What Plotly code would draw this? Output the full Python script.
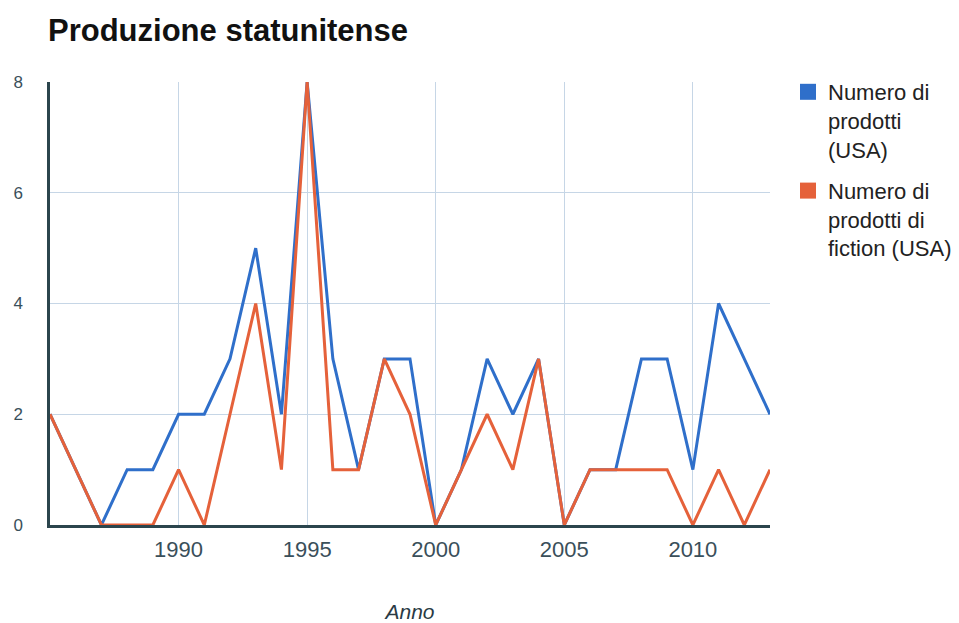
import plotly.graph_objects as go

years = list(range(1985, 2014))
prodotti_usa = [2, 1, 0, 1, 1, 2, 2, 3, 5, 2, 8, 3, 1, 3, 3, 0, 1, 3, 2, 3, 0, 1, 1, 3, 3, 1, 4, 3, 2]
fiction_usa = [2, 1, 0, 0, 0, 1, 0, 2, 4, 1, 8, 1, 1, 3, 2, 0, 1, 2, 1, 3, 0, 1, 1, 1, 1, 0, 1, 0, 1]
series_names = ["Numero di<br>prodotti<br>(USA)", "Numero di<br>prodotti di<br>fiction (USA)"]
x_ticks = [1990, 1995, 2000, 2005, 2010]
y_ticks = [0, 2, 4, 6, 8]

blue = "#2f6fca"
orange = "#e5613a"

fig = go.Figure()
fig.add_trace(go.Scatter(x=years, y=prodotti_usa, mode="lines",
                         line=dict(color=blue, width=3), showlegend=False))
fig.add_trace(go.Scatter(x=years, y=fiction_usa, mode="lines",
                         line=dict(color=orange, width=3), showlegend=False))
# legend swatches
for i, (name, col) in enumerate(zip(series_names, [blue, orange])):
    fig.add_trace(go.Scatter(x=[None], y=[None], mode="markers", name=name,
                             legendgroup=f"g{i}",
                             marker=dict(symbol="square", size=22, color=col)))

# the page body adds an 8px offset, margins compensate for it
fig.update_layout(
    width=959, height=623,
    margin=dict(l=42, r=197, t=74, b=106, autoexpand=False),
    paper_bgcolor="white", plot_bgcolor="white",
    font=dict(family="Liberation Sans, Arial, sans-serif", color="#333"),
    title=dict(text="<b>Produzione statunitense</b>", x=40/959, xanchor="left",
               y=1 - 22/623, yanchor="middle",
               font=dict(size=31, color="#111")),
    xaxis=dict(range=[1985, 2013], tickvals=x_ticks, showgrid=True,
               gridcolor="#c6d6e6", gridwidth=1, zeroline=False,
               showline=True, linecolor="#2b454d", linewidth=2.5,
               ticks="", tickfont=dict(size=22, color="#3a4f5a"),
               ticklabelstandoff=3, automargin=False,
               title=dict(text="<i>Anno</i>", font=dict(size=21, color="#2a3a44"), standoff=44)),
    yaxis=dict(range=[0, 8], tickvals=y_ticks, showgrid=True,
               gridcolor="#c6d6e6", gridwidth=1, zeroline=False,
               showline=True, linecolor="#2b454d", linewidth=2.5,
               ticks="", tickfont=dict(size=17, color="#3a4f5a"), ticklabelstandoff=21,
               automargin=False),
    legend=dict(x=(788 - 50) / 720, y=1 + 11/443, xanchor="left", yanchor="top", valign="top",
                font=dict(size=22, color="#222"), tracegroupgap=10,
                bgcolor="rgba(0,0,0,0)"),
)

fig.write_html("out.html")
